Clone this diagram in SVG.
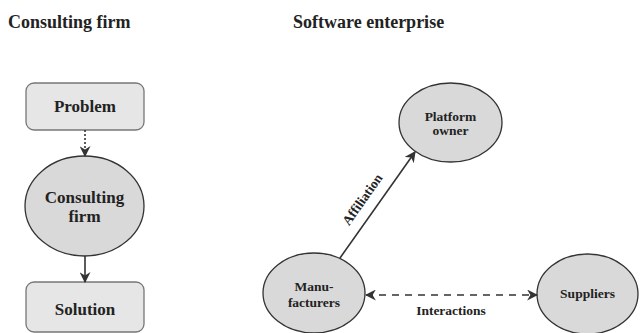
<svg xmlns="http://www.w3.org/2000/svg" width="640" height="333" viewBox="0 0 640 333">
<style>
text{font-family:'Liberation Serif','Times New Roman','DejaVu Serif',serif;font-weight:bold;fill:#222;text-anchor:middle}
.title{font-size:18px;text-anchor:start}
.lbl{font-size:17px}
.small{font-size:13.5px}
.box{fill:#e6e6e6;stroke:#777;stroke-width:1.3}
.ell{fill:#d9d9d9;stroke:#333;stroke-width:1.3}
.line{stroke:#333;stroke-width:1.6;fill:none}
</style>
<defs>
<marker id="ah2" viewBox="0 0 10 10" refX="9" refY="5" markerWidth="11" markerHeight="11" orient="auto-start-reverse" markerUnits="userSpaceOnUse">
<path d="M0,0 L10,5 L0,10 L3,5 Z" fill="#333"/>
</marker>
</defs>
<text class="title" x="8" y="28">Consulting firm</text>
<text class="title" x="293" y="28">Software enterprise</text>

<g id="problem">
<rect class="box" x="26" y="83" width="118" height="47" rx="8"/>
<text class="lbl" x="85" y="112">Problem</text>
</g>
<g id="consulting">
<ellipse class="ell" cx="84.5" cy="206" rx="59.5" ry="50"/>
<text class="lbl" x="84.5" y="203">Consulting</text>
<text class="lbl" x="84.5" y="222">firm</text>
</g>
<g id="solution">
<rect class="box" x="26" y="282" width="118" height="50" rx="8"/>
<text class="lbl" x="85" y="315">Solution</text>
</g>
<g id="platform">
<ellipse class="ell" cx="450.5" cy="122.5" rx="51.5" ry="39.5"/>
<text class="small" x="450.5" y="121">Platform</text>
<text class="small" x="450.5" y="135">owner</text>
</g>
<g id="manufacturers">
<ellipse class="ell" cx="314" cy="293" rx="51" ry="40"/>
<text class="small" x="314" y="291">Manu-</text>
<text class="small" x="314" y="307">facturers</text>
</g>
<g id="suppliers">
<ellipse class="ell" cx="587.5" cy="294" rx="50.5" ry="40"/>
<text class="small" x="587.5" y="298">Suppliers</text>
</g>

<g id="connectors">
<line class="line" x1="85" y1="130" x2="85" y2="156" stroke-dasharray="2,2" stroke-width="1" marker-end="url(#ah2)"/>
<line class="line" x1="85" y1="256" x2="85" y2="282" marker-end="url(#ah2)"/>
<line class="line" x1="340" y1="258" x2="415" y2="152" marker-end="url(#ah2)"/>
<line class="line" x1="366" y1="295" x2="537" y2="295" stroke-dasharray="7,6" marker-start="url(#ah2)" marker-end="url(#ah2)"/>
<text class="small" x="0" y="0" transform="translate(366,202) rotate(-54.7)">Affiliation</text>
<text class="small" x="451" y="315">Interactions</text>
</g>
</svg>
